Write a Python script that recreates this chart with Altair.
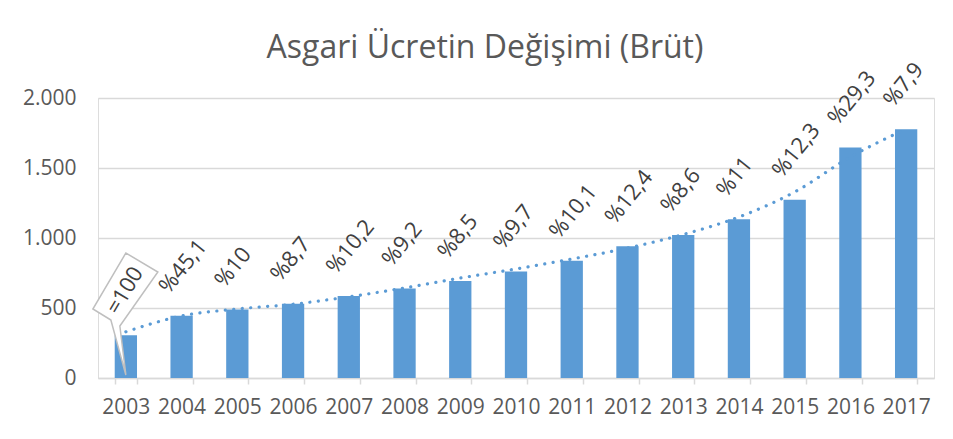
import altair as alt
import pandas as pd

years = ["2003", "2004", "2005", "2006", "2007", "2008", "2009", "2010",
         "2011", "2012", "2013", "2014", "2015", "2016", "2017"]
wages = [306, 444.15, 488.7, 531, 585, 638.7, 693, 760.5,
         837, 940.5, 1021.5, 1134, 1273.5, 1647, 1777.5]
trend = [330, 443, 493, 527, 580, 643, 714, 779,
         850, 928, 1025, 1150, 1329, 1579, 1779]
pct_labels = ["", "%45,1", "%10", "%8,7", "%10,2", "%9,2", "%8,5", "%9,7",
              "%10,1", "%12,4", "%8,6", "%11", "%12,3", "%29,3", "%7,9"]
callout_year = ["2003"]
callout_text = ["=100"]

df = pd.DataFrame({"year": years, "wage": wages, "trend": trend, "label": pct_labels})
df_call = pd.DataFrame({"year": callout_year, "wage": [0], "text": callout_text})

FONT = "Open Sans"
BLUE = "#5b9bd5"
GREY = "#595959"

x = alt.X("year:N", title=None, sort=years,
          scale=alt.Scale(paddingInner=0.6, paddingOuter=0.3),
          axis=alt.Axis(labelAngle=0, labelFont=FONT, labelFontSize=21, labelColor=GREY,
                        domainColor="#d9d9d9", domainWidth=1.5, tickColor="#d9d9d9",
                        tickWidth=1.5, tickSize=6, tickBand="extent", labelPadding=12))
y_scale = alt.Scale(domain=[0, 2000])

base = alt.Chart(df)

bars = base.mark_bar(color=BLUE).encode(
    x=x,
    y=alt.Y("wage:Q", title=None, scale=y_scale,
            axis=alt.Axis(values=[0, 500, 1000, 1500, 2000], domain=False, ticks=False,
                          labelFont=FONT, labelFontSize=21, labelColor=GREY, labelPadding=22,
                          gridColor="#d9d9d9", gridWidth=1.5,
                          labelExpr="replace(format(datum.value, ','), ',', '.')")),
)

line = base.mark_line(color=BLUE, strokeWidth=3.2, strokeDash=[0.1, 8.4], strokeCap="round",
                      interpolate="monotone").encode(
    x=alt.X("year:N", sort=years),
    y=alt.Y("trend:Q", scale=y_scale),
)

labels = base.mark_text(font=FONT, fontSize=22, color="#404040", angle=309, align="left",
                        baseline="middle", dx=8.5, dy=-30).encode(
    x=alt.X("year:N", sort=years),
    y=alt.Y("wage:Q", scale=y_scale),
    text="label:N",
)

callout_shape = "M-15,-58 L-33,-69 L0,-125 L32,-106 L-6,-52 L0,-3 Z"
callout = alt.Chart(df_call).mark_point(shape=callout_shape, size=4, filled=True, fill="white",
                                        stroke="#bfbfbf", strokeWidth=1.5, opacity=1).encode(
    x=alt.X("year:N", sort=years),
    y=alt.Y("wage:Q", scale=y_scale),
)
callout_label = alt.Chart(df_call).mark_text(font=FONT, fontSize=22, color="#404040", angle=301,
                                             align="center", baseline="middle",
                                             dx=74.5, dy=-45.9).encode(
    x=alt.X("year:N", sort=years),
    y=alt.Y("wage:Q", scale=y_scale),
    text="text:N",
)

chart = alt.layer(bars, line, labels, callout, callout_label).properties(
    width=836, height=280,
    autosize=alt.AutoSizeParams(type="none"),
    padding={"left": 90, "top": 90, "right": 10, "bottom": 50},
    title=alt.TitleParams("Asgari Ücretin Değişimi (Brüt)", anchor="middle", font=FONT,
                          fontSize=32, fontWeight="normal", color=GREY, offset=-6, dx=-31,
                          frame="group"),
).configure_view(stroke=None).configure(background="white")

chart.save("out.html", embed_options={"renderer": "svg", "actions": False})
